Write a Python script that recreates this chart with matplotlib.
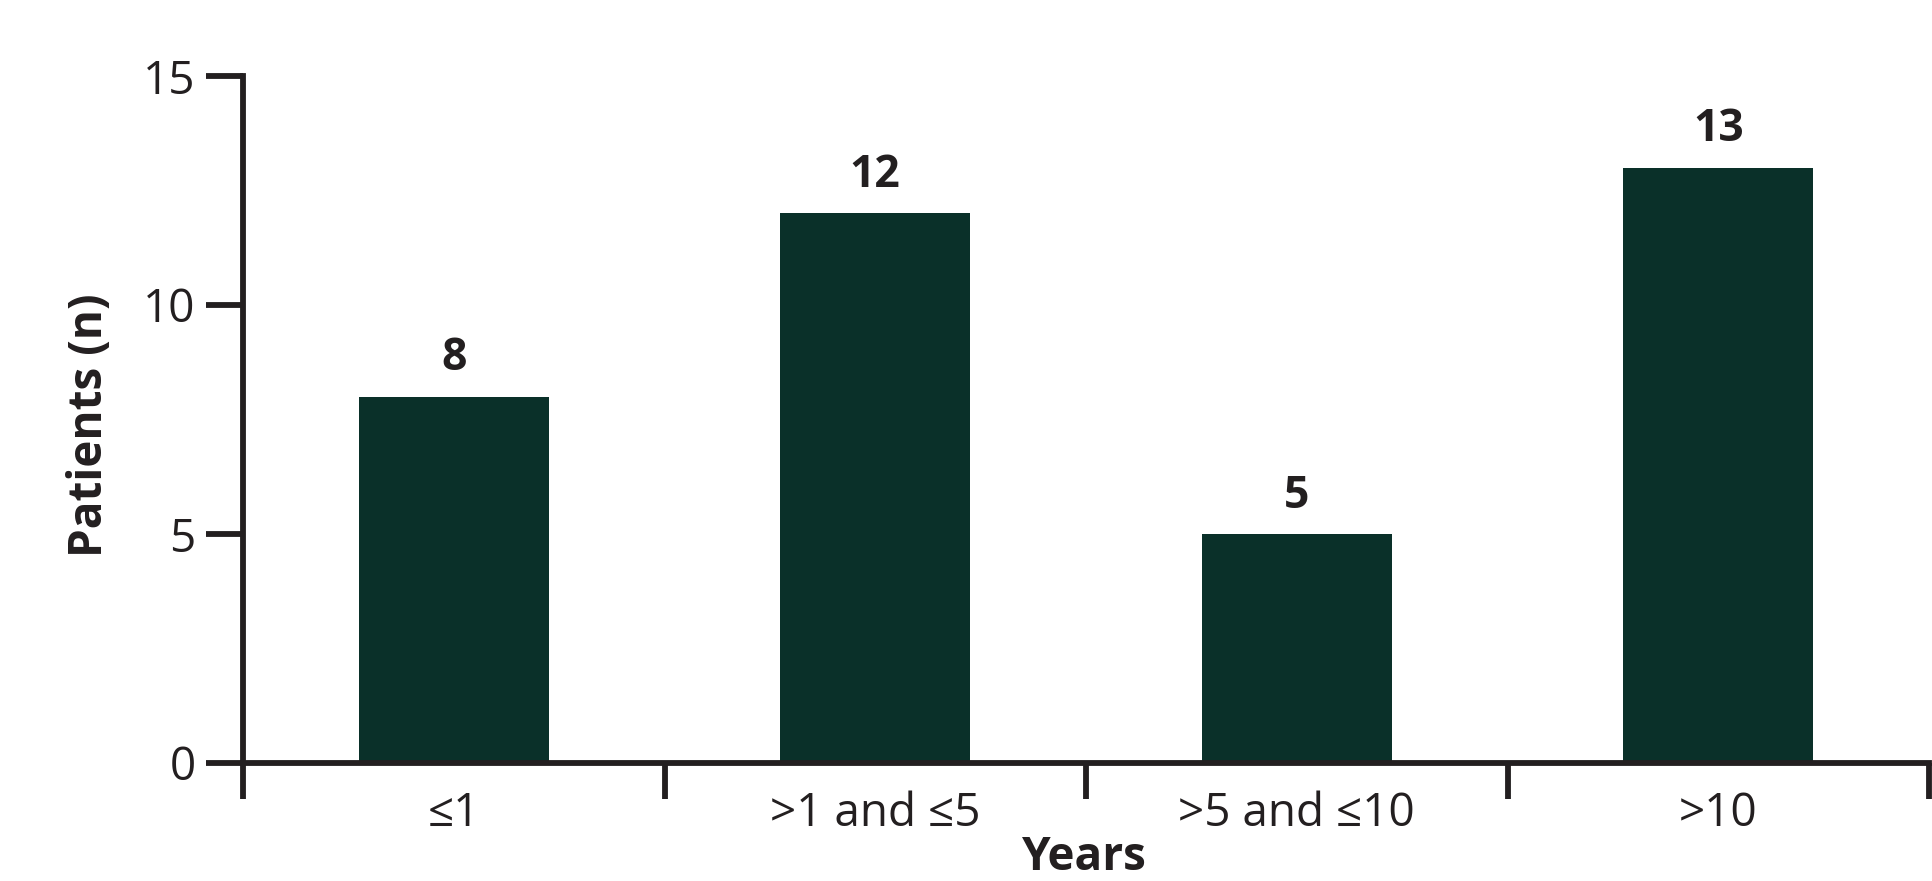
import matplotlib.pyplot as plt
from matplotlib.ticker import FixedLocator

categories = ['≤1', '>1 and ≤5', '>5 and ≤10', '>10']
patients = [8, 12, 5, 13]
yticks = [0, 5, 10, 15]

bar_color = '#0a3029'
ink = '#231f20'
fonts = ['Open Sans', 'DejaVu Sans']
plt.rcParams['font.family'] = fonts

fig = plt.figure(figsize=(19.32, 8.81), dpi=100)
ax = fig.add_axes([243 / 1932, 1 - 763 / 881, 1686 / 1932, 687 / 881])

x = list(range(len(categories)))
bars = ax.bar(x, patients, width=0.45, color=bar_color, zorder=1)

for xi, v in zip(x, patients):
    ax.annotate(str(v), (xi, v), xytext=(0, 19), textcoords='offset points',
                ha='center', va='baseline', fontsize=32, fontweight='bold', color=ink)

ax.set_xlim(-0.5, len(categories) - 0.5)
ax.set_ylim(0, 15)
ax.set_yticks(yticks)
ax.set_xticks(x)
ax.set_xticklabels(categories)
ax.xaxis.set_minor_locator(FixedLocator([i - 0.5 for i in range(len(categories) + 1)]))

lw = 4.2
for side in ['top', 'right']:
    ax.spines[side].set_visible(False)
for side in ['left', 'bottom']:
    ax.spines[side].set_linewidth(lw)
    ax.spines[side].set_color(ink)
    ax.spines[side].set_zorder(3)

ax.tick_params(axis='y', direction='out', length=27, width=lw, color=ink,
               pad=7, labelsize=33, labelcolor=ink)
ax.tick_params(axis='x', which='major', length=0, pad=20, labelsize=33, labelcolor=ink)
ax.tick_params(axis='x', which='minor', direction='out', length=26, width=lw, color=ink)

fig.text(90 / 1932, 1 - 425 / 881, 'Patients (n)', rotation=90, ha='center', va='center',
         fontsize=33, fontweight='bold', color=ink)
fig.text(1084 / 1932, 0.012, 'Years', ha='center', va='baseline',
         fontsize=33, fontweight='bold', color=ink)

fig.savefig('out.png', dpi=100)
